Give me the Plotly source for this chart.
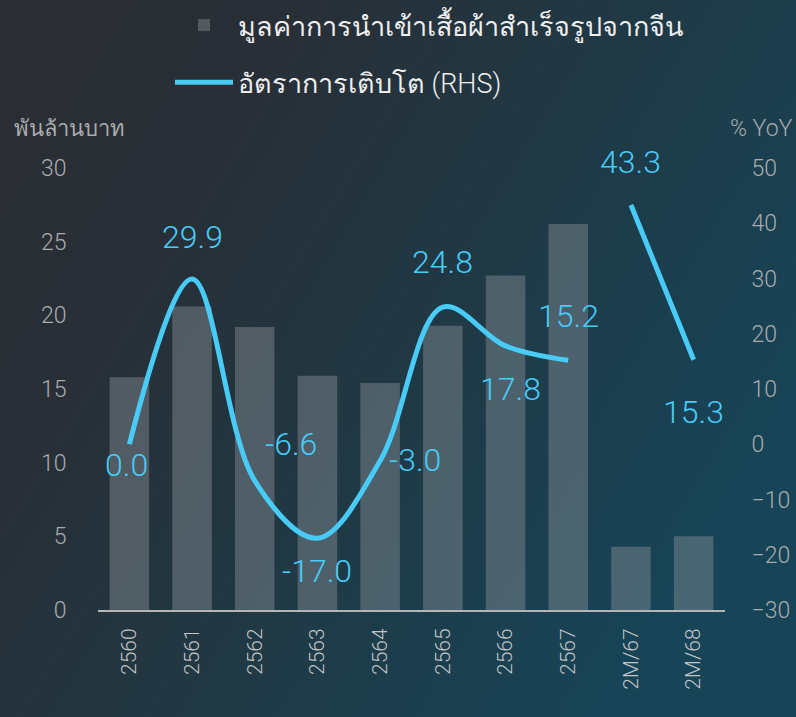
import base64
import plotly.graph_objects as go

# ---- data ----
categories = ["2560", "2561", "2562", "2563", "2564", "2565", "2566", "2567", "2M/67", "2M/68"]
import_value = [15.8, 20.6, 19.2, 15.9, 15.4, 19.3, 22.7, 26.2, 4.3, 5.0]   # พันล้านบาท
growth_yoy = [0.0, 29.9, -6.6, -17.0, -3.0, 24.8, 17.8, 15.2, 43.3, 15.3]   # % YoY
annual_n = 8  # first 8 points are annual, last 2 are Jan-Feb

bar_name = "มูลค่าการนำเข้าเสื้อผ้าสำเร็จรูปจากจีน"
line_name = "อัตราการเติบโต (RHS)"

# ---- style ----
FONT = "Roboto, 'Noto Sans', sans-serif"
LINE_COLOR = "#48cbf7"
BAR_COLOR = "rgba(140,146,152,0.44)"
TICK_COLOR = "#a9abad"
W, H = 796, 717
L, R, T, B = 98, 71, 168, 107
pw, ph = W - L - R, H - T - B

# label offsets (px) for each growth label
label_shift = [(-3, -21), (0, 42), (36, 37), (0, -33), (35, 1),
               (0, 45), (5, -43), (0, 44), (0, 43), (0, -52)]

fig = go.Figure()

fig.add_trace(go.Bar(
    x=categories, y=import_value, name=bar_name,
    marker=dict(color=BAR_COLOR, line=dict(width=0)),
    yaxis="y", legendgroup="a",
))

fig.add_trace(go.Scatter(
    x=categories[:annual_n], y=growth_yoy[:annual_n], name=line_name,
    mode="lines", line=dict(color=LINE_COLOR, width=5, shape="spline", smoothing=1.0),
    yaxis="y2", legendgroup="b",
))
fig.add_trace(go.Scatter(
    x=categories[annual_n:], y=growth_yoy[annual_n:], name=line_name,
    mode="lines", line=dict(color=LINE_COLOR, width=5, shape="spline", smoothing=1.0),
    yaxis="y2", legendgroup="b", showlegend=False,
))

annotations = []
for i, (v, (dx, dy)) in enumerate(zip(growth_yoy, label_shift)):
    annotations.append(dict(
        x=i, y=v, xref="x", yref="y2", text=f"{v:.1f}", showarrow=False,
        xshift=dx, yshift=dy, font=dict(family=FONT, size=32, color=LINE_COLOR, weight=300),
    ))

annotations.append(dict(
    text="พันล้านบาท", xref="paper", yref="paper",
    x=(12 - L) / pw, y=(H - B - 128) / ph, xanchor="left", yanchor="middle",
    showarrow=False, font=dict(family=FONT, size=22, color=TICK_COLOR, weight=300),
))
annotations.append(dict(
    text="% YoY", xref="paper", yref="paper",
    x=(W - L - 1) / pw, y=(H - B - 128) / ph, xanchor="right", yanchor="middle",
    showarrow=False, font=dict(family=FONT, size=23, color=TICK_COLOR, weight=300),
))

svg = (
    f'<svg xmlns="http://www.w3.org/2000/svg" width="{W}" height="{H}" '
    f'viewBox="0 0 {W} {H}" preserveAspectRatio="none">'
    '<defs><linearGradient id="g" x1="0" y1="0" x2="1" y2="0.55">'
    '<stop offset="0" stop-color="#2b2d33"/>'
    '<stop offset="0.3" stop-color="#282f37"/>'
    '<stop offset="0.65" stop-color="#1f3a46"/>'
    '<stop offset="1" stop-color="#174457"/>'
    '</linearGradient></defs>'
    f'<rect width="{W}" height="{H}" fill="url(#g)"/></svg>'
)
src = "data:image/svg+xml;base64," + base64.b64encode(svg.encode()).decode()

fig.update_layout(
    width=W, height=H,
    margin=dict(l=L, r=R, t=T, b=B, autoexpand=False),
    paper_bgcolor="#252d35", plot_bgcolor="rgba(0,0,0,0)",
    font=dict(family=FONT, color=TICK_COLOR),
    bargap=0.37,
    showlegend=True,
    legend=dict(
        x=(170 - L) / pw, y=(H - B - 1) / ph, xanchor="left", yanchor="top",
        orientation="v", traceorder="grouped", tracegroupgap=19,
        bgcolor="rgba(0,0,0,0)", itemwidth=58,
        font=dict(family=FONT, size=27, color="#eeeeee", weight=300),
    ),
    xaxis=dict(
        type="category", range=[-0.5, len(categories) - 0.5],
        tickangle=-90, showgrid=False, zeroline=False,
        showline=True, linecolor="#b5b5b5", linewidth=2,
        ticks="outside", ticklen=8, tickcolor="rgba(0,0,0,0)",
        tickfont=dict(family=FONT, size=21, color="#c3c5c7", weight=300),
    ),
    yaxis=dict(
        range=[0, 30], dtick=5, showgrid=False, zeroline=False, showline=False,
        ticks="outside", ticklen=26, tickcolor="rgba(0,0,0,0)",
        tickfont=dict(family=FONT, size=23, color=TICK_COLOR, weight=300),
    ),
    yaxis2=dict(
        range=[-30, 50], dtick=10, overlaying="y", side="right",
        showgrid=False, zeroline=False, showline=False,
        ticks="outside", ticklen=21, tickcolor="rgba(0,0,0,0)",
        tickfont=dict(family=FONT, size=23, color=TICK_COLOR, weight=300),
    ),
    annotations=annotations,
    images=[dict(
        source=src, xref="paper", yref="paper",
        x=-L / pw, y=(H - B) / ph, sizex=W / pw, sizey=H / ph,
        xanchor="left", yanchor="top", sizing="stretch", layer="below",
    )],
)

fig.write_html(
    "out.html",
    config={"displayModeBar": False},
    post_script="document.body.style.margin='0';document.body.style.overflow='hidden';",
)
